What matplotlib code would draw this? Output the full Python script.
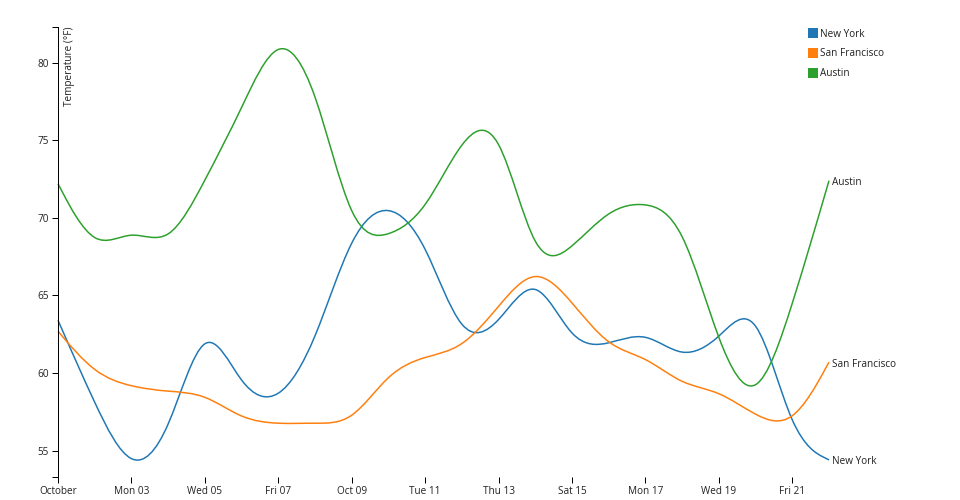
import matplotlib

matplotlib.use("Agg")
import matplotlib.dates as mdates
import matplotlib.pyplot as plt
import numpy as np
import pandas as pd
from matplotlib.patches import PathPatch, Rectangle
from matplotlib.path import Path
from matplotlib.transforms import Affine2D


DATES = [
    "2011-10-01", "2011-10-02", "2011-10-03", "2011-10-04", "2011-10-05", "2011-10-06",
    "2011-10-07", "2011-10-08", "2011-10-09", "2011-10-10", "2011-10-11", "2011-10-12",
    "2011-10-13", "2011-10-14", "2011-10-15", "2011-10-16", "2011-10-17", "2011-10-18",
    "2011-10-19", "2011-10-20", "2011-10-21", "2011-10-22",
]
NEW_YORK = [63.4, 58.0, 53.3, 55.7, 64.2, 58.8, 57.9, 61.8, 69.3, 71.2, 68.7,
            61.8, 63.0, 66.9, 61.7, 61.8, 62.8, 60.8, 62.1, 65.1, 55.6, 54.4]
SAN_FRANCISCO = [62.7, 59.9, 59.1, 58.8, 58.7, 57.0, 56.7, 56.8, 56.7, 60.1, 61.1,
                 61.5, 64.3, 67.1, 64.6, 61.6, 61.1, 59.2, 58.9, 57.2, 56.4, 60.7]
AUSTIN = [72.2, 67.7, 69.4, 68.0, 72.4, 77.0, 82.3, 78.9, 68.8, 68.7, 70.3,
          75.3, 76.6, 66.6, 68.0, 70.6, 71.1, 70.0, 61.6, 57.4, 64.3, 72.4]

CITIES = ["New York", "San Francisco", "Austin"]
COLORS = ["#1f77b4", "#ff7f0e", "#2ca02c"]

X_TICK_DATES = ["2011-10-01", "2011-10-03", "2011-10-05", "2011-10-07", "2011-10-09",
                "2011-10-11", "2011-10-13", "2011-10-15", "2011-10-17", "2011-10-19",
                "2011-10-21"]
X_TICK_LABELS = ["October", "Mon 03", "Wed 05", "Fri 07", "Oct 09", "Tue 11",
                 "Thu 13", "Sat 15", "Mon 17", "Wed 19", "Fri 21"]
Y_TICKS = [55, 60, 65, 70, 75, 80]
Y_LABEL = "Temperature (°F)"

W, H = 960, 500
PX = 0.72  # one pixel in points at dpi 100
FS = 10 * PX


def basis_path(x, y):
    # cubic B-spline, same control points as d3.curveBasis
    x = list(x)
    y = list(y)
    verts = [(x[0], y[0]), ((5 * x[0] + x[1]) / 6, (5 * y[0] + y[1]) / 6)]
    codes = [Path.MOVETO, Path.LINETO]
    xs = x + [x[-1]]
    ys = y + [y[-1]]
    for i in range(2, len(xs)):
        x0, x1, x2 = xs[i - 2], xs[i - 1], xs[i]
        y0, y1, y2 = ys[i - 2], ys[i - 1], ys[i]
        verts += [
            ((2 * x0 + x1) / 3, (2 * y0 + y1) / 3),
            ((x0 + 2 * x1) / 3, (y0 + 2 * y1) / 3),
            ((x0 + 4 * x1 + x2) / 6, (y0 + 4 * y1 + y2) / 6),
        ]
        codes += [Path.CURVE4] * 3
    verts.append((x[-1], y[-1]))
    codes.append(Path.LINETO)
    return Path(verts, codes)


plt.rcParams["font.family"] = ["Open Sans", "DejaVu Sans"]

fig = plt.figure(figsize=(W / 100, H / 100), dpi=100)
left, right, top, bottom = 58, 829, 27, 477
ax = fig.add_axes([left / W, 1 - bottom / H, (right - left) / W, (bottom - top) / H])

x = mdates.date2num(pd.to_datetime(DATES))
series = [NEW_YORK, SAN_FRANCISCO, AUSTIN]
all_vals = np.concatenate([np.asarray(s) for s in series])

for name, values, color in zip(CITIES, series, COLORS):
    patch = PathPatch(basis_path(x, values), facecolor="none", edgecolor=color,
                      linewidth=1.5 * PX, clip_on=False)
    ax.add_patch(patch)
    ax.annotate(name, xy=(x[-1], values[-1]), xytext=(3, -2), textcoords="offset pixels",
                va="center", ha="left", fontsize=FS, color="#222", annotation_clip=False)

ax.set_xlim(x[0], x[-1])
ax.set_ylim(all_vals.min(), all_vals.max())

for side in ["top", "right", "bottom"]:
    ax.spines[side].set_visible(False)
ax.spines["left"].set_linewidth(PX)

ax.set_xticks(mdates.date2num(pd.to_datetime(X_TICK_DATES)))
ax.set_xticklabels(X_TICK_LABELS)
ax.set_yticks(Y_TICKS)
# outer ticks at both ends of the y domain, like a d3 axis
ax.set_yticks([all_vals.min(), all_vals.max()], minor=True)
ax.tick_params(axis="both", which="both", length=6 * PX, width=PX, pad=3 * PX,
               labelsize=FS, labelcolor="#222", color="black")
ax.tick_params(axis="x", which="minor", length=0)

ax.text(0, 1, Y_LABEL, transform=ax.transAxes + Affine2D().translate(6, 0),
        rotation=90, ha="left", va="top", fontsize=FS, color="#222")

# legend, top right
for i, (name, color) in enumerate(zip(CITIES, COLORS)):
    y0 = 28 + 20 * i
    fig.patches.append(Rectangle((808 / W, 1 - (y0 + 10) / H), 10 / W, 10 / H,
                                 transform=fig.transFigure, facecolor=color, edgecolor="none"))
    fig.text(820 / W, 1 - (y0 + 6) / H, name, ha="left", va="center", fontsize=FS, color="#222")

fig.savefig("out.png", dpi=100)
